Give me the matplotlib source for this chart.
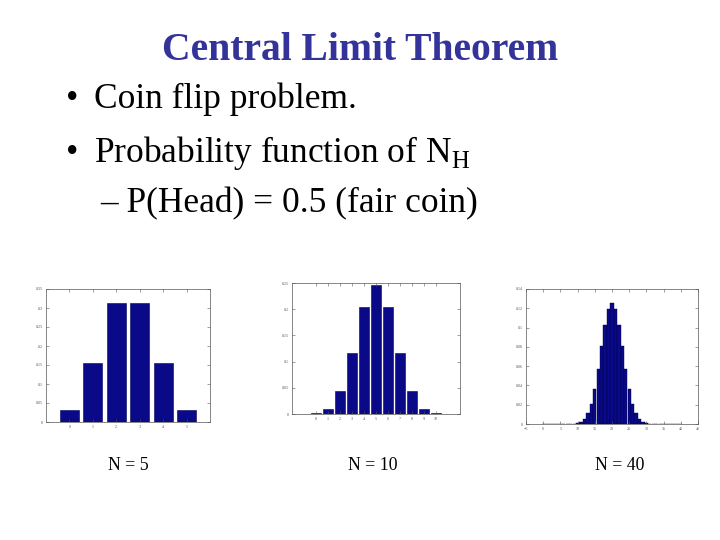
import matplotlib
matplotlib.use("Agg")
import matplotlib.pyplot as plt

plt.rcParams['font.family'] = ['Liberation Serif', 'DejaVu Serif']
plt.rcParams['mathtext.fontset'] = 'custom'
plt.rcParams['mathtext.rm'] = 'Liberation Serif'

# Data
k5 = [0, 1, 2, 3, 4, 5]
p5 = [0.031, 0.156, 0.312, 0.312, 0.156, 0.031]

k10 = [0, 1, 2, 3, 4, 5, 6, 7, 8, 9, 10]
p10 = [0.001, 0.010, 0.044, 0.117, 0.205, 0.246, 0.205, 0.117, 0.044, 0.010, 0.001]

k40 = list(range(0, 41))
p40 = [0.0, 0.0, 0.0, 0.0, 0.0, 0.0, 0.0, 0.0, 0.0, 0.0002, 0.0008,
       0.0021, 0.0051, 0.0109, 0.0211, 0.0366, 0.0572, 0.0807, 0.1031, 0.1194,
       0.1254, 0.1194, 0.1031, 0.0807, 0.0572, 0.0366, 0.0211, 0.0109, 0.0051,
       0.0021, 0.0008, 0.0002, 0.0, 0.0, 0.0, 0.0, 0.0, 0.0, 0.0, 0.0, 0.0]

yticks5 = [0, 0.05, 0.1, 0.15, 0.2, 0.25, 0.3, 0.35]
yticks10 = [0, 0.05, 0.1, 0.15, 0.2, 0.25]
yticks40 = [0, 0.02, 0.04, 0.06, 0.08, 0.1, 0.12, 0.14]
xticks40 = [-5, 0, 5, 10, 15, 20, 25, 30, 35, 40, 45]

W, H = 720, 540
fig = plt.figure(figsize=(7.2, 5.4), dpi=100)
fig.patch.set_facecolor('white')

bar_color = '#0a0a88'


def px_axes(l, t, r, b):
    return fig.add_axes([l / W, 1 - b / H, (r - l) / W, (b - t) / H])


def style(ax):
    for s in ax.spines.values():
        s.set_linewidth(0.5)
        s.set_color('#555555')
    ax.tick_params(direction='in', length=2, width=0.4, labelsize=3,
                   top=True, right=True, pad=2, colors='#555555')


ax1 = px_axes(46, 289, 210, 422)
ax1.bar(k5, p5, width=0.8, color=bar_color, edgecolor='#000060', linewidth=0.4)
ax1.set_xlim(-1, 6)
ax1.set_ylim(0, 0.35)
ax1.set_xticks(k5)
ax1.set_yticks(yticks5)
ax1.set_yticklabels(['0', '0.05', '0.1', '0.15', '0.2', '0.25', '0.3', '0.35'])
style(ax1)

ax2 = px_axes(292, 283, 460, 414)
ax2.bar(k10, p10, width=0.8, color=bar_color, edgecolor='#000060', linewidth=0.4)
ax2.set_xlim(-2, 12)
ax2.set_ylim(0, 0.25)
ax2.set_xticks(k10)
ax2.set_yticks(yticks10)
ax2.set_yticklabels(['0', '0.05', '0.1', '0.15', '0.2', '0.25'])
style(ax2)

ax3 = px_axes(526, 289, 698, 424)
ax3.bar(k40, p40, width=0.95, color=bar_color, edgecolor='#00004a', linewidth=0.3)
ax3.set_xlim(-5, 45)
ax3.set_ylim(0, 0.14)
ax3.set_xticks(xticks40)
ax3.set_yticks(yticks40)
ax3.set_yticklabels(['0', '0.02', '0.04', '0.06', '0.08', '0.1', '0.12', '0.14'])
style(ax3)

# Title and text
fig.text(360 / W, 1 - 60 / H, 'Central Limit Theorem', ha='center', va='baseline',
         fontsize=28.5, fontweight='bold', color='#333399')

fs = 25.5
fig.text(66 / W, 1 - 108 / H, '\u2022', ha='left', va='baseline', fontsize=fs)
fig.text(94 / W, 1 - 108 / H, 'Coin flip problem.', ha='left', va='baseline', fontsize=fs)
fig.text(66 / W, 1 - 162 / H, '\u2022', ha='left', va='baseline', fontsize=fs)
fig.text(94 / W, 1 - 162 / H, r'Probability function of N$_{\mathrm{H}}$', ha='left',
         va='baseline', fontsize=fs)
fig.text(100 / W, 1 - 212 / H, '\u2013 P(Head) = 0.5 (fair coin)', ha='left',
         va='baseline', fontsize=fs)

lfs = 12.8
fig.text(128 / W, 1 - 470 / H, 'N = 5', ha='center', va='baseline', fontsize=lfs)
fig.text(373 / W, 1 - 470 / H, 'N = 10', ha='center', va='baseline', fontsize=lfs)
fig.text(620 / W, 1 - 470 / H, 'N = 40', ha='center', va='baseline', fontsize=lfs)

fig.savefig('out.png', dpi=100, facecolor='white')
